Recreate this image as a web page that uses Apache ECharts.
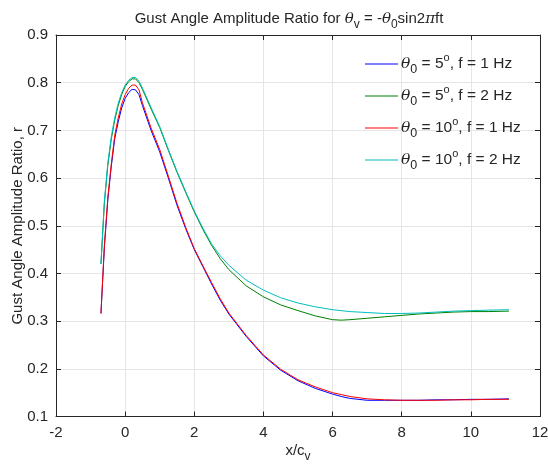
<!DOCTYPE html>
<html>
<head>
<meta charset="utf-8">
<script src="https://cdn.jsdelivr.net/npm/echarts@6/dist/echarts.min.js"></script>
<style>html,body{margin:0;padding:0;background:#fff;}#c{width:548px;height:465px;}</style>
</head>
<body>
<div id="c"></div>
<script>
var xs = [-0.7, -0.6, -0.5, -0.4, -0.3, -0.2, -0.1, 0, 0.1, 0.2, 0.25, 0.3, 0.4, 0.5, 0.75, 1, 1.25, 1.5, 1.75, 2, 2.25, 2.5, 2.75, 3, 3.5, 4, 4.5, 5, 5.5, 6, 6.25, 6.5, 7, 7.5, 8, 8.5, 9, 9.5, 10, 10.5, 11.1];
var r5_1 = [0.316, 0.455, 0.555, 0.625, 0.683, 0.718, 0.747, 0.767, 0.779, 0.786, 0.787, 0.785, 0.775, 0.752, 0.700, 0.655, 0.600, 0.543, 0.494, 0.450, 0.414, 0.378, 0.344, 0.315, 0.268, 0.227, 0.197, 0.175, 0.159, 0.147, 0.142, 0.138, 0.134, 0.134, 0.134, 0.134, 0.135, 0.135, 0.136, 0.136, 0.137];
var r5_2 = [0.42, 0.548, 0.627, 0.682, 0.722, 0.752, 0.775, 0.792, 0.802, 0.808, 0.81, 0.808, 0.8, 0.786, 0.745, 0.706, 0.658, 0.612, 0.570, 0.529, 0.492, 0.459, 0.431, 0.408, 0.374, 0.351, 0.334, 0.322, 0.311, 0.303, 0.302, 0.303, 0.306, 0.309, 0.312, 0.315, 0.317, 0.319, 0.32, 0.32, 0.321];
var r10_1 = [0.316, 0.46, 0.56, 0.63, 0.69, 0.726, 0.755, 0.775, 0.788, 0.795, 0.797, 0.795, 0.785, 0.758, 0.705, 0.66, 0.604, 0.547, 0.497, 0.452, 0.416, 0.381, 0.347, 0.317, 0.27, 0.229, 0.199, 0.177, 0.162, 0.15, 0.146, 0.142, 0.137, 0.135, 0.134, 0.134, 0.134, 0.135, 0.135, 0.136, 0.136];
var r10_2 = [0.42, 0.552, 0.632, 0.687, 0.727, 0.757, 0.779, 0.795, 0.805, 0.811, 0.813, 0.811, 0.803, 0.789, 0.748, 0.708, 0.66, 0.614, 0.572, 0.531, 0.495, 0.462, 0.437, 0.417, 0.386, 0.365, 0.349, 0.338, 0.33, 0.324, 0.322, 0.32, 0.318, 0.316, 0.316, 0.317, 0.319, 0.321, 0.322, 0.323, 0.324];
var theta0 = [5, 5, 10, 10];
var freq = [1, 2, 1, 2];
var colors = ['#0000ff', '#008000', '#ff0000', '#00bfbf'];
var seriesData = [r5_1, r5_2, r10_1, r10_2];
var xTicks = [-2, 0, 2, 4, 6, 8, 10, 12];
var yTicks = [0.1, 0.2, 0.3, 0.4, 0.5, 0.6, 0.7, 0.8, 0.9];

var FONT = 'Liberation Sans, Arial, Helvetica, sans-serif';
var TXT = '#262626';
var FS = 15;
var names = theta0.map(function (t, i) { return 'th' + t + '_' + freq[i]; });

var rich = {
  n: {fontSize: FS, fontFamily: FONT, color: TXT, lineHeight: 24, verticalAlign: 'middle'},
  th: {fontSize: FS, fontFamily: 'DejaVu Serif, serif', fontStyle: 'italic', color: TXT, lineHeight: 24, verticalAlign: 'middle'},
  sub: {fontSize: 12, fontFamily: FONT, color: TXT, lineHeight: 14, verticalAlign: 'bottom'},
  sup: {fontSize: 11, fontFamily: FONT, color: TXT, lineHeight: 14, verticalAlign: 'top'}
};
var richL = {
  n: {fontSize: 15.5, fontFamily: FONT, color: TXT, lineHeight: 24, verticalAlign: 'middle'},
  th: {fontSize: 15.5, fontFamily: 'DejaVu Serif, serif', fontStyle: 'italic', color: TXT, lineHeight: 24, verticalAlign: 'middle'},
  sub: {fontSize: 12.5, fontFamily: FONT, color: TXT, lineHeight: 14, verticalAlign: 'bottom'},
  sup: {fontSize: 11, fontFamily: FONT, color: TXT, lineHeight: 14, verticalAlign: 'top'}
};

var series = seriesData.map(function (arr, i) {
  return {
    name: names[i],
    type: 'line',
    data: xs.map(function (x, k) { return [x, arr[k]]; }),
    symbol: 'none',
    smooth: false,
    lineStyle: {color: colors[i], width: 1},
    itemStyle: {color: colors[i]},
    animation: false,
    z: 3 + i
  };
});

function axisCommon(extra) {
  return Object.assign({
    axisLine: {show: true, onZero: false, lineStyle: {color: TXT, width: 1}},
    axisTick: {show: true, inside: true, length: 5, lineStyle: {color: TXT}}
  }, extra);
}

var chart = echarts.init(document.getElementById('c'), null, {renderer: 'canvas'});
chart.setOption({
  backgroundColor: '#fff',
  animation: false,
  title: {
    text: '{n|Gust Angle Amplitude Ratio for }{th|θ}{sub|v}{n| = -}{th|θ}{sub|0}{n|sin2}{th|π}{n|ft}',
    left: 284, top: 2, textAlign: 'center',
    textStyle: {fontWeight: 'normal', rich: rich}
  },
  legend: {
    data: names,
    orient: 'vertical',
    left: 365, top: 52, padding: 0,
    itemWidth: 33, itemHeight: 1, itemGap: 8,
    icon: 'rect',
    formatter: function (name) {
      var i = names.indexOf(name);
      return '{th|θ}{sub|0}{n| = ' + theta0[i] + '}{sup|o}{n|, f = ' + freq[i] + ' Hz}';
    },
    textStyle: {rich: richL, padding: [0, 0, 0, -2]}
  },
  grid: {left: 56, right: 8, top: 35, bottom: 48.5, containLabel: false, outerBoundsMode: 'none'},
  xAxis: [
    axisCommon({
      type: 'value', min: xTicks[0], max: xTicks[xTicks.length - 1], interval: 2,
      position: 'bottom',
      name: '{n|x/c}{sub|v}', nameLocation: 'middle', nameGap: 22, nameMoveOverlap: false,
      nameTextStyle: {rich: rich},
      axisLabel: {color: TXT, fontSize: FS, fontFamily: FONT, margin: 9},
      splitLine: {show: true, lineStyle: {color: '#e5e5e5', width: 1}}
    }),
    axisCommon({
      type: 'value', min: xTicks[0], max: xTicks[xTicks.length - 1], interval: 2,
      position: 'top', axisLabel: {show: false}, splitLine: {show: false}
    })
  ],
  yAxis: [
    axisCommon({
      type: 'value', min: yTicks[0], max: yTicks[yTicks.length - 1], interval: 0.1,
      position: 'left',
      name: 'Gust Angle Amplitude Ratio, r', nameLocation: 'middle', nameGap: 31, nameMoveOverlap: false,
      nameTextStyle: {color: TXT, fontSize: FS, fontFamily: FONT},
      axisLabel: {color: TXT, fontSize: FS, fontFamily: FONT, margin: 8,
        formatter: function (v) { return v.toFixed(1); }},
      splitLine: {show: true, lineStyle: {color: '#e5e5e5', width: 1}}
    }),
    axisCommon({
      type: 'value', min: yTicks[0], max: yTicks[yTicks.length - 1], interval: 0.1,
      position: 'right', axisLabel: {show: false}, splitLine: {show: false}
    })
  ],
  series: series
});
</script>
</body>
</html>
